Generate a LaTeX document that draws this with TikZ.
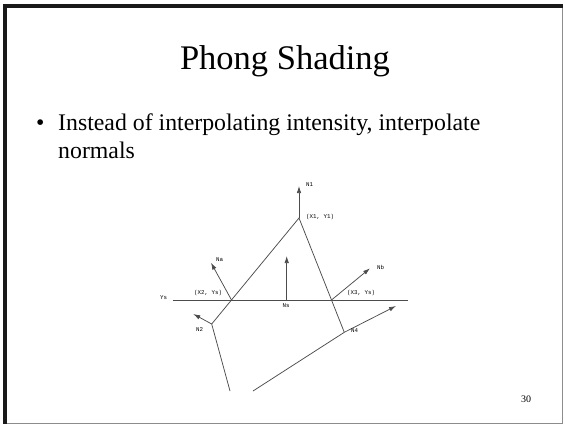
\documentclass[tikz,border=0pt]{standalone}
\usepackage{fontspec}
\setmainfont{Liberation Serif}
\newfontfamily\labfont{Liberation Mono}
\usetikzlibrary{arrows.meta}
\begin{document}
\begin{tikzpicture}[x=1pt,y=-1pt,
  edge/.style={line width=0.75pt,draw=black!70},
  normal/.style={edge,-{Latex[length=7pt,width=4.5pt]}},
  lab/.style={inner sep=0pt,font=\labfont\fontsize{5.8}{6}\selectfont,text=black},
  bodytxt/.style={inner sep=0pt,anchor=base west,font=\fontsize{23.8}{28}\selectfont}]
\useasboundingbox (0,0) rectangle (565,424);
% frame
\draw[black!45,line width=0.8pt] (5,6) -- (562,6) -- (562,423) -- (5,423);
\fill[black!90] (3,4) rectangle (7,424);
\fill[black!90] (3,4) rectangle (563,8);
% texts
\node[inner sep=0pt,anchor=base,font=\fontsize{34.5}{38}\selectfont] (title) at (285,69) {Phong Shading};
\node[bodytxt] (bul) at (36,130) {\textbullet};
\node[bodytxt] (body1) at (58,130) {Instead of interpolating intensity, interpolate};
\node[bodytxt] (body2) at (58,158) {normals};
\node[inner sep=0pt,anchor=base west,font=\fontsize{10}{12}\selectfont] (pg) at (521,402) {30};
% points
\coordinate (P1) at (299,218);
\coordinate (P2) at (211.7,324);
\coordinate (P4) at (344.3,332.3);
\coordinate (X2) at (231.5,300);
\coordinate (X3) at (331.5,300);
\coordinate (S) at (286.7,300);
\coordinate (YL) at (172.7,300);
\coordinate (YR) at (408,300);
\coordinate (B2) at (230,391);
\coordinate (B4) at (253,391);
\coordinate (T1) at (299,186);
\coordinate (Ta) at (211,262.7);
\coordinate (Tb) at (370,268.3);
\coordinate (Ts) at (286.7,256);
\coordinate (T2) at (193.3,314);
\coordinate (T4) at (396,306);
% lines
\draw[edge] (YL) -- (YR);
\draw[edge] (P2) -- (P1) -- (P4);
\draw[edge] (P2) -- (B2);
\draw[edge] (B4) -- (P4);
% normals
\draw[normal] (P1) -- (T1);
\draw[normal] (X2) -- (Ta);
\draw[normal] (X3) -- (Tb);
\draw[normal] (S) -- (Ts);
\draw[normal] (P2) -- (T2);
\draw[normal] (P4) -- (T4);
% labels
\node[lab,anchor=west] (lN1) at (306,185) {N1};
\node[lab,anchor=west] (lP1) at (306,217) {(X1, Y1)};
\node[lab,anchor=west] (lNa) at (216,260) {Na};
\node[lab,anchor=west] (lX2) at (194,293) {(X2, Ys)};
\node[lab,anchor=west] (lYs) at (160,298) {Ys};
\node[lab] (lNs) at (286,306) {Ns};
\node[lab,anchor=west] (lNb) at (377,267) {Nb};
\node[lab,anchor=west] (lX3) at (347,293) {(X3, Ys)};
\node[lab,anchor=west] (lN4) at (351,331) {N4};
\node[lab,anchor=west] (lN2) at (196,330) {N2};
\end{tikzpicture}
\end{document}
